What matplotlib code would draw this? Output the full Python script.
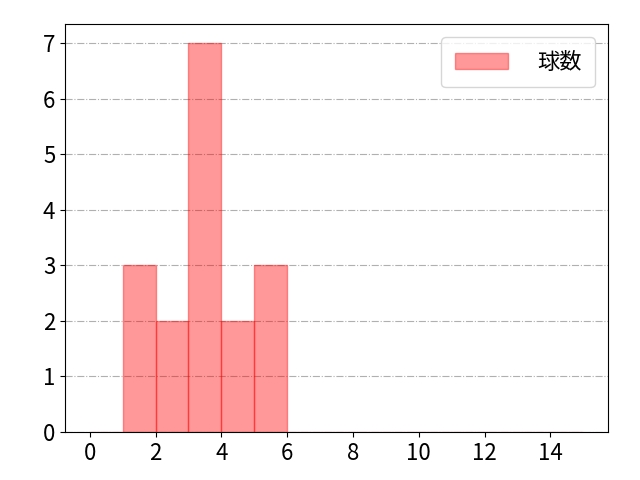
import matplotlib
matplotlib.use("Agg")
import matplotlib.pyplot as plt
import numpy as np

plt.rcParams['font.family'] = ['Noto Sans CJK JP', 'DejaVu Sans']
plt.rcParams['font.size'] = 16

# histogram bins (pitch count per bin)
bin_edges = list(range(0, 16))
bin_counts = [0, 3, 2, 7, 2, 3, 0, 0, 0, 0, 0, 0, 0, 0, 0]
label = '球数'

fig = plt.figure(figsize=(6.4, 4.8), dpi=100)
ax = fig.add_axes([0.1016, 0.1, 0.8484, 0.85])

ax.hist(bin_edges[:-1], bins=bin_edges, weights=bin_counts,
        color='red', alpha=0.4, edgecolor='red', label=label)

ax.set_xticks(range(0, 16, 2))
ax.set_yticks(range(0, 8))
ax.grid(axis='y', color='#b0b0b0', linestyle='-.', linewidth=0.8)
ax.set_axisbelow(True)
ax.legend(loc='upper right', handlelength=2.4, handletextpad=1.3,
          borderpad=0.6, borderaxespad=0.6)

fig.savefig('out.png', dpi=100)
